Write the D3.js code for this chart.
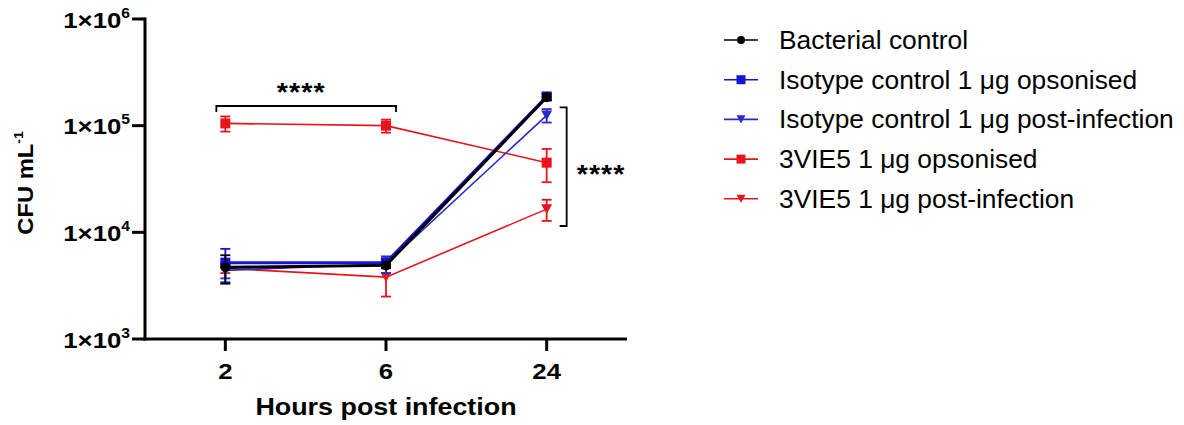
<!DOCTYPE html>
<html>
<head>
<meta charset="utf-8">
<script src="https://cdn.jsdelivr.net/npm/d3@7"></script>
<style>
  html, body { margin: 0; padding: 0; background: #fff; }
  svg { display: block; font-family: "Liberation Sans", Arial, sans-serif; }
</style>
</head>
<body>
<svg id="chart" width="1184" height="425"></svg>
<script>
// Time points (hours post infection)
const hours = ["2", "6", "24"];

// Series names
const seriesNames = [
  "Bacterial control",
  "Isotype control 1 \u03bcg opsonised",
  "Isotype control 1 \u03bcg post-infection",
  "3VIE5 1 \u03bcg opsonised",
  "3VIE5 1 \u03bcg post-infection"
];

// Mean CFU/mL per time point
const bacterialMean  = [4700, 4900, 185000];
const isoOpsMean     = [5200, 5200, 188000];
const isoPostMean    = [4400, 5050, 125000];
const vieOpsMean     = [105000, 100000, 45000];
const viePostMean    = [4600, 3800, 16500];

// Standard deviations
const bacterialSd = [1400, 300, 12000];
const isoOpsSd    = [1800, 500, 14000];
const isoPostSd   = [700, 900, 18000];
const vieOpsSd    = [17000, 14000, 15500];
const viePostSd   = [450, 1300, 3700];

// Y axis decades
const yTicks = [1e3, 1e4, 1e5, 1e6];

// Styling per series (draw order: back to front)
const series = [
  { name: seriesNames[4], mean: viePostMean,   sd: viePostSd,   color: "#e8141c", shape: "tri",    lw: 1.6 },
  { name: seriesNames[3], mean: vieOpsMean,    sd: vieOpsSd,    color: "#e8141c", shape: "square", lw: 1.6 },
  { name: seriesNames[2], mean: isoPostMean,   sd: isoPostSd,   color: "#2a2ac4", shape: "tri",    lw: 1.6 },
  { name: seriesNames[1], mean: isoOpsMean,    sd: isoOpsSd,    color: "#1414d8", shape: "square", lw: 3 },
  { name: seriesNames[0], mean: bacterialMean, sd: bacterialSd, color: "#000000", shape: "circle", lw: 3 }
];
const legendOrder = [4, 3, 2, 1, 0];

const svg = d3.select("#chart");

const x = d3.scalePoint().domain(hours).range([145, 627]).padding(0.5);
const y = d3.scaleLog().domain([1e3, 1e6]).range([339, 19]);

// Text placed at (px,py), widened horizontally by sx
function wideText(parent, px, py, sx, rot) {
  return parent.append("text")
    .attr("transform", `translate(${px},${py})${rot ? ` rotate(${rot})` : ""} scale(${sx},1)`);
}

function markerPath(shape, size) {
  if (shape === "square") return d3.symbol(d3.symbolSquare, size * size)();
  if (shape === "circle") return d3.symbol(d3.symbolCircle, Math.PI * (size / 2) ** 2)();
  // downward triangle
  const h = size * 0.9, w = size;
  return `M${-w / 2},${-h / 2}L${w / 2},${-h / 2}L0,${h / 2}Z`;
}

// Data layers
const plot = svg.append("g");
series.forEach(s => {
  const g = plot.append("g");
  const line = d3.line().x((d, i) => x(hours[i])).y(d => y(d));
  g.append("path")
    .attr("d", line(s.mean))
    .attr("fill", "none")
    .attr("stroke", s.color)
    .attr("stroke-width", s.lw);

  // error bars
  s.mean.forEach((m, i) => {
    const cx = x(hours[i]);
    const hi = y(m + s.sd[i]), lo = y(Math.max(m - s.sd[i], 1));
    const eb = g.append("g").attr("stroke", s.color).attr("stroke-width", 1.8);
    eb.append("line").attr("x1", cx).attr("x2", cx).attr("y1", hi).attr("y2", lo);
    eb.append("line").attr("x1", cx - 5).attr("x2", cx + 5).attr("y1", hi).attr("y2", hi);
    eb.append("line").attr("x1", cx - 5).attr("x2", cx + 5).attr("y1", lo).attr("y2", lo);
  });

  // markers
  g.selectAll("path.mk").data(s.mean).enter().append("path")
    .attr("class", "mk")
    .attr("d", markerPath(s.shape, s.shape === "tri" ? 11 : 10))
    .attr("transform", (d, i) => `translate(${x(hours[i])},${y(d)})`)
    .attr("fill", s.color);
});

// Y axis
const yAxis = svg.append("g").attr("transform", "translate(145,0)");
yAxis.append("line").attr("x1", 0).attr("x2", 0).attr("y1", y(1e6) - 1.5).attr("y2", y(1e3) + 1.5)
  .attr("stroke", "#000").attr("stroke-width", 3);
yTicks.forEach(t => {
  yAxis.append("line").attr("x1", -13).attr("x2", 0).attr("y1", y(t)).attr("y2", y(t))
    .attr("stroke", "#000").attr("stroke-width", 3);
  const exp = Math.round(Math.log10(t));
  const txt = wideText(yAxis, -15, y(t) + 8.5, 1.12)
    .attr("text-anchor", "end")
    .attr("font-size", 23).attr("font-weight", "bold").attr("fill", "#000");
  txt.append("tspan").text("1\u00d710");
  txt.append("tspan").attr("font-size", 14).attr("dy", -10).text(exp);
});

// X axis
const xAxis = svg.append("g").attr("transform", `translate(0,${y(1e3)})`);
xAxis.append("line").attr("x1", 145 - 1.5).attr("x2", 627).attr("y1", 0).attr("y2", 0)
  .attr("stroke", "#000").attr("stroke-width", 3);
hours.forEach(h => {
  xAxis.append("line").attr("x1", x(h)).attr("x2", x(h)).attr("y1", 0).attr("y2", 12)
    .attr("stroke", "#000").attr("stroke-width", 3);
  wideText(xAxis, x(h), 39.5, 1.12)
    .attr("text-anchor", "middle").attr("font-size", 23).attr("font-weight", "bold")
    .text(h);
});

// Axis titles
wideText(svg, 386, 415, 1.12)
  .attr("text-anchor", "middle").attr("font-size", 24).attr("font-weight", "bold")
  .text("Hours post infection");

const yt = wideText(svg, 33, 183, 1.08, -90)
  .attr("text-anchor", "middle").attr("font-size", 22).attr("font-weight", "bold");
yt.append("tspan").text("CFU mL");
yt.append("tspan").attr("font-size", 13).attr("dy", -10).text("-1");

// Significance: 2 h vs 6 h bracket
const br = svg.append("g").attr("stroke", "#000").attr("stroke-width", 1.8).attr("fill", "none");
const bx1 = x("2") - 9, bx2 = x("6") + 10, by = 106;
br.append("path").attr("d", `M${bx1},${by + 6}V${by}H${bx2}V${by + 6}`);
wideText(svg, (bx1 + bx2) / 2 - 5, 101, 1.1)
  .attr("text-anchor", "middle").attr("font-size", 26).attr("font-weight", "bold")
  .attr("letter-spacing", 1).text("****");

// Significance: 24 h bracket
const rx = x("24") + 20;
br.append("path").attr("d", `M${rx - 7},${y(isoOpsMean[2]) + 11}H${rx}V226H${rx - 7}`);
wideText(svg, rx + 10, 183, 1.1)
  .attr("font-size", 26).attr("font-weight", "bold").attr("letter-spacing", 1).text("****");

// Legend
const legend = svg.append("g").attr("transform", "translate(724,40)");
legendOrder.forEach((si, r) => {
  const s = series[si];
  const row = legend.append("g").attr("transform", `translate(0,${r * 39.7})`);
  row.append("line").attr("x1", 0).attr("x2", 34).attr("y1", 0).attr("y2", 0)
    .attr("stroke", s.color).attr("stroke-width", 1.6);
  row.append("path").attr("d", markerPath(s.shape, s.shape === "circle" ? 8 : 9))
    .attr("transform", "translate(17,0)").attr("fill", s.color);
  wideText(row, 55, 9, 1.055)
    .attr("font-size", 25).attr("fill", "#000").text(s.name);
});
</script>
</body>
</html>
